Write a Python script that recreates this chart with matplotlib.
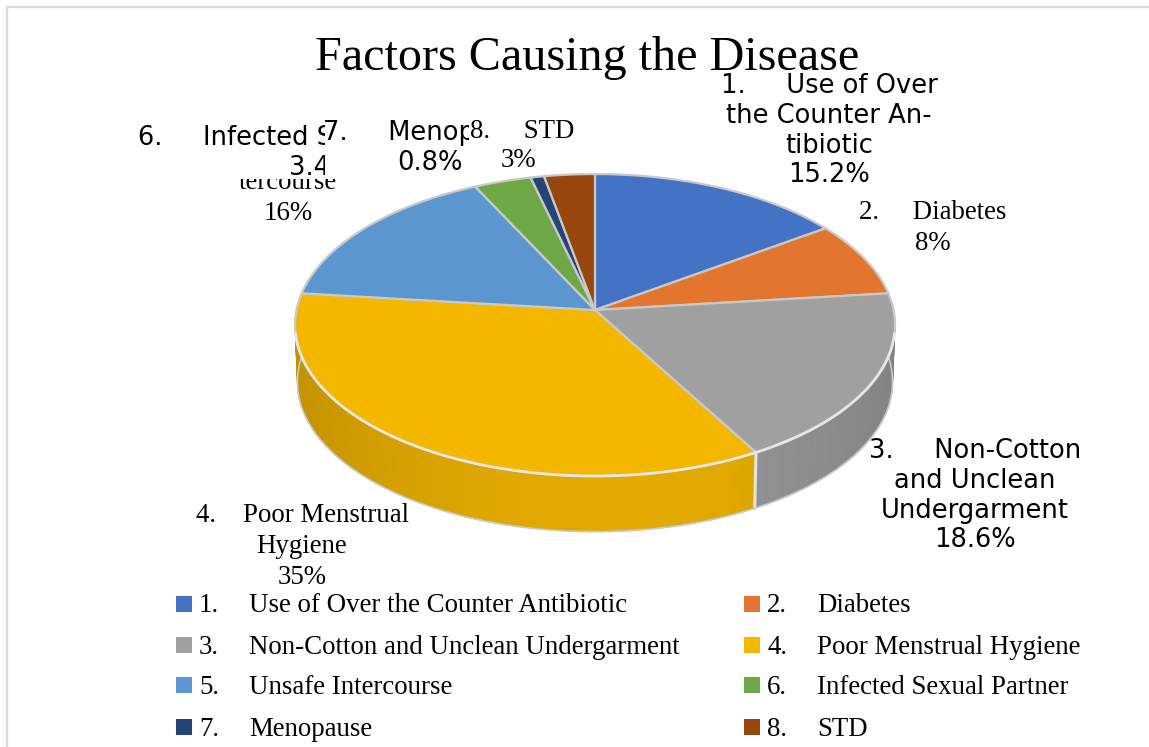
import numpy as np
import matplotlib
matplotlib.use("Agg")
import matplotlib.pyplot as plt
from matplotlib.patches import Rectangle, Polygon
from matplotlib.lines import Line2D

categories = ["Use of Over the Counter Antibiotic", "Diabetes",
              "Non-Cotton and Unclean Undergarment", "Poor Menstrual Hygiene",
              "Unsafe Intercourse", "Infected Sexual Partner", "Menopause", "STD"]
values = [15.2, 8, 18.6, 35, 16, 3.4, 0.8, 3]
colors = ["#4472C4", "#E2762F", "#A0A0A0", "#F4B700",
          "#5B97CE", "#6DA746", "#264478", "#97460E"]
edge_color = "#C9C9C9"
serif = "Liberation Serif"
sans = "DejaVu Sans"

# pie geometry in pixels
cx, cy = 595, 310
rx, ry = 298.5, 149.5
persp = 0.0994
depth = 57


def project(theta, drop=0.0, scale=1.0):
    # theta runs clockwise from twelve o'clock, the far side is slightly smaller
    den = 1 + persp * np.cos(theta)
    x = cx + scale * rx * np.sin(theta) / den
    y = cy - scale * ry * np.cos(theta) / den + drop
    return x, y


def shade(color, f):
    rgb = np.array(matplotlib.colors.to_rgb(color))
    return tuple(np.clip(rgb * f, 0, 1))


fig = plt.figure(figsize=(11.49, 7.47), dpi=100)
ax = fig.add_axes([0, 0, 1, 1])
ax.set_xlim(0, 1149)
ax.set_ylim(747, 0)
ax.axis("off")

# chart frame
ax.add_line(Line2D([7, 7, 1149], [747, 7, 7], color="#DADADA", lw=1.6, zorder=1))

fractions = np.cumsum([0] + values) / np.sum(values)
angles = fractions * 2 * np.pi

# side wall, drawn in thin strips so the shading can change along the rim
for i in range(len(values)):
    a0, a1 = angles[i], angles[i + 1]
    lo, hi = max(a0, np.pi / 2), min(a1, 3 * np.pi / 2)
    if lo >= hi:
        continue
    steps = max(2, int((hi - lo) / 0.03))
    edges = np.linspace(lo, hi, steps + 1)
    for j in range(steps):
        t = np.linspace(edges[j], edges[j + 1], 3)
        x0, y0 = project(t)
        x1, y1 = project(t[::-1], depth, 0.992)
        pts = np.column_stack([np.r_[x0, x1], np.r_[y0, y1]])
        # lighter towards the front, darker towards both sides
        f = 0.80 + 0.13 * np.cos(edges[j] - np.pi * 0.97) ** 2
        col = shade(colors[i], f)
        ax.add_patch(Polygon(pts, closed=True, fc=col, ec=col, lw=0.6, zorder=2))
    # seam between two wall sections
    if np.pi / 2 < a1 < 3 * np.pi / 2:
        xa, ya = project(a1)
        xb, yb = project(a1, depth, 0.992)
        ax.plot([xa, xb], [ya, yb], color="#E4E4E4", lw=2.2, zorder=3)

t = np.linspace(np.pi * 0.47, np.pi * 1.53, 200)
xb, yb = project(t, depth, 0.992)
ax.plot(xb, yb, color=edge_color, lw=1.2, zorder=3)

# top face
for i in range(len(values)):
    t = np.linspace(angles[i], angles[i + 1], 80)
    x, y = project(t)
    pts = np.column_stack([np.r_[cx, x], np.r_[cy, y]])
    ax.add_patch(Polygon(pts, closed=True, fc=colors[i], ec=edge_color, lw=1.6,
                         joinstyle="round", zorder=4))

# near rim of the top face is almost white
t = np.linspace(np.pi * 0.55, np.pi * 1.45, 200)
x, y = project(t)
ax.plot(x, y, color="#E6E6E6", lw=2.0, zorder=5)


def label(x, y, lines, family, clip=None):
    # serif labels sit a little lower and wrap a little wider than the sans ones
    size, step, nudge = (19.4, 31, 2.5) if family == serif else (18.5, 29.8, 2)
    for n, line in enumerate(lines):
        txt = ax.text(x, y + nudge + n * step, line, family=family, fontsize=size,
                      ha="center", va="center", color="black", zorder=10)
        if clip is not None:
            txt.set_clip_path(Rectangle((clip[0], clip[1]), clip[2] - clip[0], clip[3] - clip[1],
                                        transform=ax.transData))
            txt.set_clip_on(True)


ax.text(587.5, 70, "Factors Causing the Disease", family=serif, fontsize=34.7,
        ha="center", va="baseline", color="black", zorder=6)

label(829, 84, ["1.     Use of Over", "the Counter An-", "tibiotic", "%.1f%%" % values[0]], sans)
label(933, 210, ["2.     Diabetes", "%d%%" % values[1]], serif)
label(975, 449, ["3.     Non-Cotton", "and Unclean", "Undergarment", "%.1f%%" % values[2]], sans)
label(302, 513, ["4.    Poor Menstrual", "Hygiene", "%d%%" % values[3]], serif)
label(288, 149, ["5.     Unsafe In-", "tercourse", "%d%%" % values[4]], serif, clip=(135, 179, 345, 230))
label(322, 136, ["6.     Infected Sexual Partner", "%.1f%%" % values[5]], sans, clip=(120, 118, 325, 179))
label(430, 131, ["7.     Menopause", "%.1f%%" % values[6]], sans, clip=(325, 115, 469, 180))
label(522, 129, ["8.     STD"], serif)
label(519, 158, ["%d%%" % values[7]], serif)

# legend, two columns filled left to right
legend_x = [184, 752]
legend_y = [604, 645, 685, 727]
for i, name in enumerate(categories):
    col, row = i % 2, i // 2
    lx, ly = legend_x[col], legend_y[row]
    ax.add_patch(Rectangle((lx - 8, ly - 8), 16, 16, fc=colors[i], ec="none", zorder=6))
    ax.text(lx + 15, ly + 2, "%d." % (i + 1), family=serif, fontsize=19.4, va="center", zorder=6)
    ax.text(lx + 65, ly + 2, name, family=serif, fontsize=19.4, va="center", zorder=6)

fig.savefig("out.png", dpi=100)
